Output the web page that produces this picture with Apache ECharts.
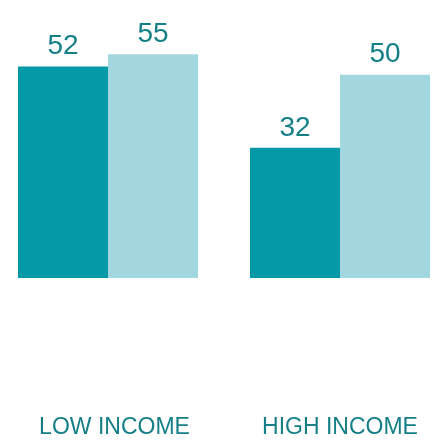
<!DOCTYPE html>
<html>
<head>
<meta charset="utf-8">
<script src="https://cdn.jsdelivr.net/npm/echarts@6/dist/echarts.min.js"></script>
<style>
  html, body { margin: 0; padding: 0; background: #ffffff; }
  #chart { width: 441px; height: 441px; }
</style>
</head>
<body>
<div id="chart"></div>
<script>
// Income groups and the two compared shares
const categories = ['LOW INCOME', 'HIGH INCOME'];
const seriesA = [52, 32];
const seriesB = [55, 50];

const textColor = '#157f87';
const labelFont = 'Liberation Sans, Arial, sans-serif';

function barSeries(values, color) {
  return {
    type: 'bar',
    data: values,
    barWidth: 90,
    barGap: '0%',
    clip: false,
    itemStyle: { color: color },
    label: {
      show: true,
      position: 'top',
      distance: 6,
      color: textColor,
      fontSize: 28,
      fontFamily: labelFont
    }
  };
}

const chart = echarts.init(document.getElementById('chart'));
chart.setOption({
  animation: false,
  backgroundColor: '#ffffff',
  // Grid spans from the centre of the first group to the centre of the last
  grid: { left: 108, right: 101, top: 34, bottom: 163, containLabel: false },
  xAxis: {
    type: 'category',
    boundaryGap: false,
    data: categories.map((c, i) => ({
      value: c,
      textStyle: i === 0 ? { padding: [0, 0, 0, 13] } : {}
    })),
    axisLine: { show: false },
    axisTick: { show: false },
    axisLabel: {
      margin: 138,
      color: textColor,
      fontSize: 23,
      fontFamily: labelFont
    }
  },
  yAxis: {
    type: 'value',
    min: 0,
    max: 60,
    show: false,
    splitLine: { show: false }
  },
  series: [
    barSeries(seriesA, '#0399a6'),
    barSeries(seriesB, '#a3d7e0')
  ]
});
</script>
</body>
</html>
